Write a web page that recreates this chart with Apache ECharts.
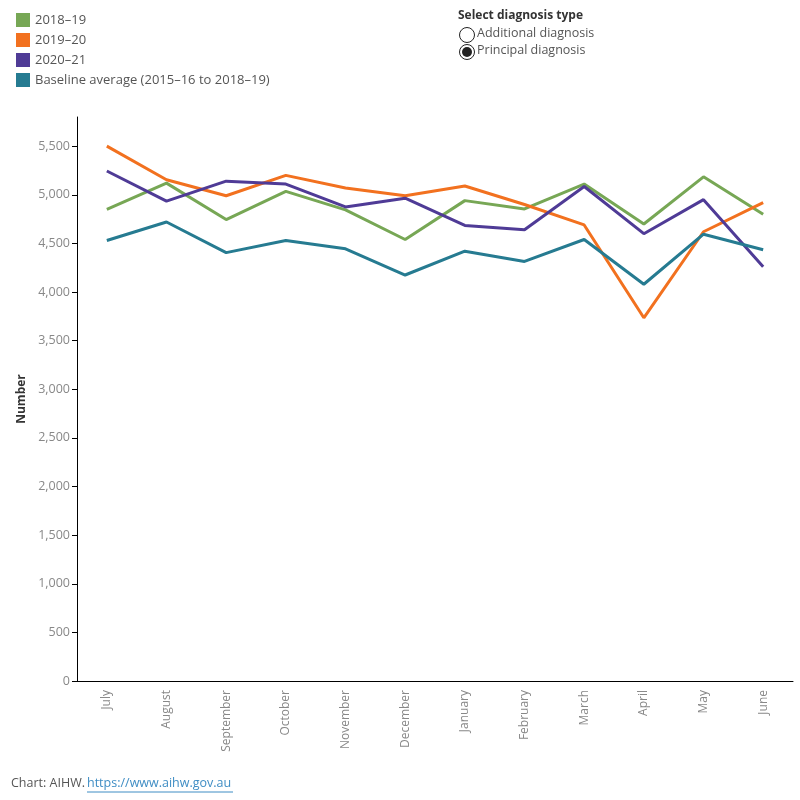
<!DOCTYPE html>
<html>
<head>
<meta charset="utf-8">
<script src="https://cdn.jsdelivr.net/npm/echarts@6/dist/echarts.min.js"></script>
<style>
  html, body { margin: 0; padding: 0; background: #fff; }
  #chart { width: 800px; height: 800px; }
</style>
</head>
<body>
<div id="chart"></div>
<script>
// months of the financial year
const months = ['July', 'August', 'September', 'October', 'November', 'December',
  'January', 'February', 'March', 'April', 'May', 'June']

const fy1819 = [4850, 5120, 4745, 5035, 4845, 4540, 4940, 4855, 5110, 4700, 5185, 4800]
const fy1920 = [5500, 5155, 4990, 5200, 5070, 4990, 5090, 4900, 4690, 3735, 4620, 4920]
const fy2021 = [5245, 4935, 5140, 5110, 4875, 4965, 4685, 4640, 5085, 4600, 4950, 4260]
const baseline = [4530, 4720, 4405, 4530, 4445, 4175, 4420, 4315, 4540, 4080, 4595, 4435]

const yTicks = [0, 500, 1000, 1500, 2000, 2500, 3000, 3500, 4000, 4500, 5000, 5500]

const font = 'Open Sans'
const colors = ['#77a755', '#f2711f', '#4f3b96', '#267b91']

const chart = echarts.init(document.getElementById('chart'))

function line(name, data, color) {
  return {
    name: name,
    type: 'line',
    data: data,
    showSymbol: false,
    symbol: 'none',
    lineStyle: { width: 3, color: color },
    itemStyle: { color: color }
  }
}

chart.setOption({
  animation: false,
  textStyle: { fontFamily: font },
  legend: {
    orient: 'vertical',
    left: 11,
    top: 8,
    icon: 'rect',
    itemWidth: 14,
    itemHeight: 14,
    itemGap: 6,
    textStyle: { fontFamily: font, fontSize: 13, color: '#555' },
    data: ['2018–19', '2019–20', '2020–21', 'Baseline average (2015–16 to 2018–19)']
  },
  grid: { left: 77, right: 7, top: 117, bottom: 119, containLabel: false },
  xAxis: {
    type: 'category',
    data: months,
    boundaryGap: true,
    axisLine: { lineStyle: { color: '#000', width: 1 } },
    axisTick: { length: 5, lineStyle: { color: '#000' } },
    axisLabel: { rotate: 90, color: '#888', fontSize: 12, fontFamily: font, margin: 9 }
  },
  yAxis: {
    type: 'value',
    min: 0,
    max: 5800,
    interval: 500,
    name: 'Number',
    nameLocation: 'middle',
    nameGap: 48,
    nameRotate: 90,
    nameTextStyle: { color: '#333', fontSize: 12, fontWeight: 'bold', fontFamily: font },
    splitLine: { show: false },
    axisLine: { show: true, lineStyle: { color: '#000', width: 1 } },
    axisTick: { show: true, length: 5, lineStyle: { color: '#000' }, customValues: yTicks },
    axisLabel: {
      color: '#888', fontSize: 12.5, fontFamily: font, margin: 7,
      customValues: yTicks,
      formatter: v => v.toLocaleString('en-US')
    }
  },
  series: [
    line('2018–19', fy1819, colors[0]),
    line('2019–20', fy1920, colors[1]),
    line('2020–21', fy2021, colors[2]),
    line('Baseline average (2015–16 to 2018–19)', baseline, colors[3])
  ],
  graphic: [
    { type: 'text', left: 458, top: 10, style: { text: 'Select diagnosis type', fontFamily: font, fontSize: 12, fontWeight: 'bold', fill: '#333' } },
    { type: 'circle', shape: { cx: 467, cy: 35, r: 7.5 }, style: { fill: '#fff', stroke: '#222', lineWidth: 1 } },
    { type: 'text', left: 477, top: 27, style: { text: 'Additional diagnosis', fontFamily: font, fontSize: 12.5, fill: '#555' } },
    { type: 'circle', shape: { cx: 467, cy: 52, r: 7.5 }, style: { fill: '#fff', stroke: '#222', lineWidth: 1 } },
    { type: 'circle', shape: { cx: 467, cy: 52, r: 5 }, style: { fill: '#222' } },
    { type: 'text', left: 477, top: 44, style: { text: 'Principal diagnosis', fontFamily: font, fontSize: 12.5, fill: '#555' } },
    { type: 'text', left: 11, top: 777, style: { text: 'Chart: AIHW.', fontFamily: font, fontSize: 12.5, fill: '#555' } },
    { type: 'text', left: 87, top: 777, style: { text: 'https://www.aihw.gov.au', fontFamily: font, fontSize: 12.5, fill: '#3f8dc4' } },
    { type: 'line', shape: { x1: 87, y1: 792, x2: 233, y2: 792 }, style: { stroke: '#3f8dc4', lineWidth: 1 } }
  ]
})
</script>
</body>
</html>
